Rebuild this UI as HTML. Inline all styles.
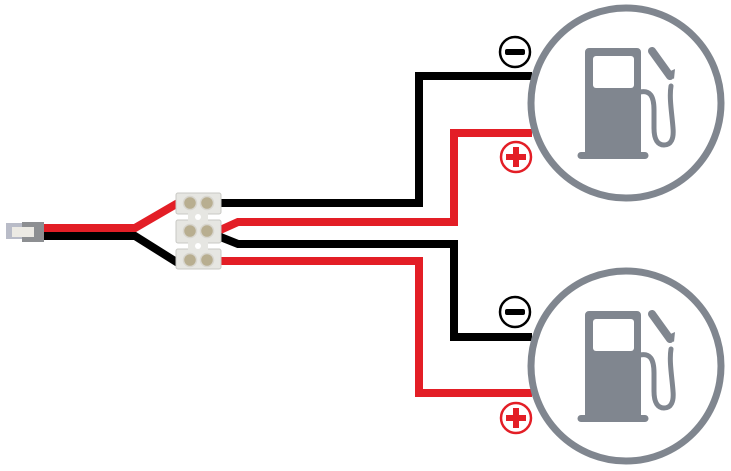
<!DOCTYPE html>
<html><head><style>body{margin:0;background:#fff}svg{display:block}</style></head>
<body>
<svg width="731" height="471" viewBox="0 0 731 471" xmlns="http://www.w3.org/2000/svg">
<g fill="none" stroke-width="8" stroke-linejoin="miter">
<path d="M43 228 H135 L178 203" stroke="#e31e26"/>
<path d="M43 236 H135 L178 263" stroke="#000"/>
<path d="M218 203 H419 V76 H532" stroke="#000"/>
<path d="M218 231 L238 222 H454 V133 H532" stroke="#e31e26"/>
<path d="M218 236 L238 244 H454 V337 H532" stroke="#000"/>
<path d="M218 261 H419 V393 H532" stroke="#e31e26"/>
</g>
<rect x="6" y="223" width="16" height="16" fill="#b9bcc8"/>
<rect x="22" y="222" width="22" height="20" fill="#8d8f92"/>
<rect x="12" y="227" width="22" height="10" fill="#eceae4"/>
<g fill="#e6e6e2" stroke="#c8c8c4" stroke-width="1">
<rect x="176" y="193" width="45" height="21" rx="2"/>
<rect x="176" y="220" width="45" height="23" rx="2"/>
<rect x="176" y="249" width="45" height="20" rx="2"/>
<rect x="188" y="210" width="20" height="44" stroke="none"/>
</g>
<circle cx="198" cy="217" r="3" fill="#fff"/><circle cx="198" cy="246" r="3" fill="#fff"/>
<g fill="#b8ae90" stroke="#d8d6cf" stroke-width="1.5">
<circle cx="190" cy="203" r="6.5"/><circle cx="207" cy="203" r="6.5"/>
<circle cx="190" cy="231" r="6.5"/><circle cx="207" cy="231" r="6.5"/>
<circle cx="190" cy="260" r="6.5"/><circle cx="207" cy="260" r="6.5"/>
</g>
<g stroke-width="2.5" fill="#fff">
<circle cx="515" cy="52" r="15" stroke="#000"/>
<circle cx="515" cy="312" r="15" stroke="#000"/>
<circle cx="516" cy="157" r="15" stroke="#e31e26"/>
<circle cx="516" cy="418" r="15" stroke="#e31e26"/>
</g>
<g fill="#000"><rect x="505" y="49" width="20" height="6" rx="2"/><rect x="505" y="309" width="20" height="6" rx="2"/></g>
<g fill="#e31e26"><rect x="506" y="154" width="20" height="6"/><rect x="513" y="147" width="6" height="20"/>
<rect x="506" y="415" width="20" height="6"/><rect x="513" y="408" width="6" height="20"/></g>
<defs>
<g id="pump">
<circle cx="0" cy="0" r="95" fill="none" stroke="#80868f" stroke-width="7"/>
<path d="M-41 -51 a4 4 0 0 1 4 -4 h48 a4 4 0 0 1 4 4 v100 h4 a3 3 0 0 1 0 7 h-64 a3 3 0 0 1 0 -7 h4 z" fill="#80868f"/>
<rect x="-33" y="-47" width="41" height="32" rx="3" fill="#fff"/>
<path d="M14 -11 c10 -2 14 4 14 18 v18 c0 12 4 17 10 17 c7 0 10 -6 9 -17 c-1 -14 -4 -30 -2 -42" fill="none" stroke="#80868f" stroke-width="5" stroke-linecap="round"/>
<path d="M26 -52 l18 25" fill="none" stroke="#80868f" stroke-width="8" stroke-linecap="round"/>
<path d="M40 -30 l9 -4 l-1 10 z" fill="#80868f"/>
</g>
</defs>
<use href="#pump" x="626" y="103"/>
<use href="#pump" x="626" y="366"/>
</svg>
</body></html>
